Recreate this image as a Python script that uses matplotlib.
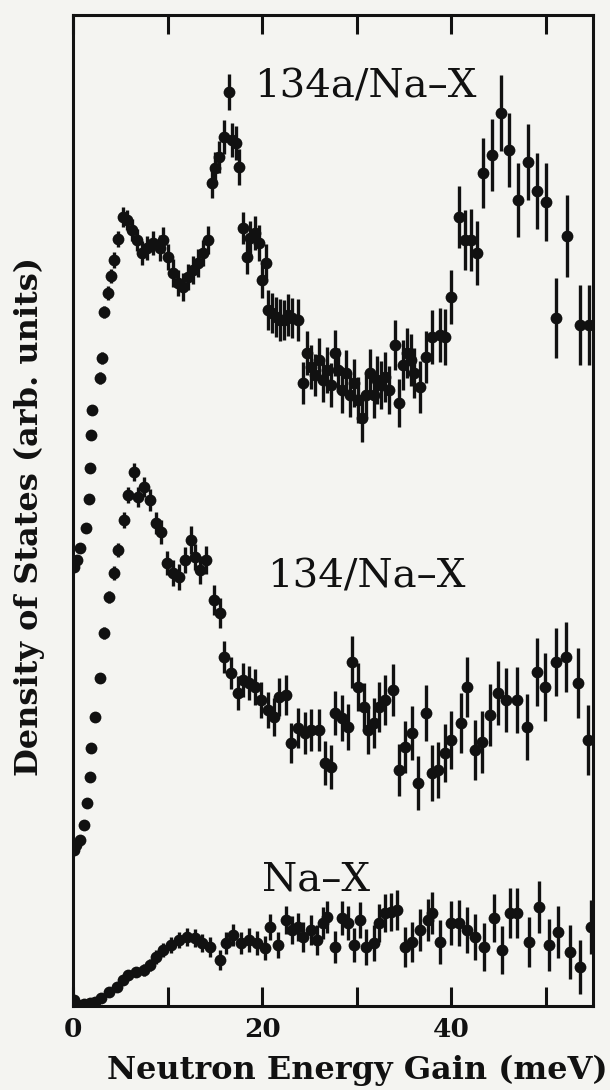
import matplotlib.pyplot as plt

# 134a/Na-X (upper curve)
e_134a = [0.11, 0.42, 0.79, 1.38, 1.69, 1.80, 1.90, 2.01, 2.86, 3.07, 3.28, 3.70, 4.02, 4.34, 4.76,
          5.29, 5.71, 6.24, 6.77, 7.30, 7.83, 8.47, 9.21, 9.52, 10.05, 10.58, 11.11, 11.64, 12.17, 12.70, 13.23, 13.76, 14.29,
          14.71, 15.03, 15.45, 15.98, 16.51, 16.83, 17.25, 17.57,
          17.99, 18.41, 18.73, 19.26, 19.68, 20.00, 20.42, 20.63, 21.06, 21.48, 21.90, 22.33, 22.75, 23.17, 23.81,
          24.34, 24.76, 25.19, 25.61, 26.03, 26.46, 26.88, 27.30, 27.72, 28.04, 28.47, 28.89, 29.31, 29.74, 30.16, 30.58,
          31.01, 31.43, 31.85, 32.17, 32.59, 33.02, 33.44, 34.07, 34.50, 34.92, 35.34, 35.77, 36.08, 36.72, 37.35, 37.99,
          38.84, 39.37,
          40.00, 40.85, 41.48, 42.12, 42.75, 43.39, 44.34, 45.29, 46.14, 47.09, 48.15, 49.10, 50.05, 51.11, 52.28, 53.65, 54.60]
dos_134a = [43.9, 44.6, 45.8, 47.8, 50.7, 53.8, 57.1, 59.6, 62.8, 64.8, 69.4, 71.3, 73.0, 74.6, 76.7,
            78.9, 78.6, 77.6, 76.6, 75.3, 75.8, 76.3, 75.8, 76.6, 74.9, 73.3, 72.3, 71.9, 72.9, 73.6, 74.3, 75.3, 76.6,
            82.3, 83.8, 84.9, 86.9, 91.4, 86.6, 86.3, 83.9,
            77.8, 74.9, 76.8, 77.3, 76.3, 72.6, 74.3, 69.6, 69.3, 68.9, 68.6, 68.6, 69.1, 68.8, 68.6,
            62.3, 65.3, 63.9, 63.1, 64.6, 62.6, 63.6, 62.1, 65.3, 63.6, 61.6, 63.3, 61.1, 62.3, 60.6, 58.8,
            61.1, 63.3, 61.1, 62.6, 62.1, 62.9, 61.6, 66.1, 60.3, 64.1, 65.3, 64.6, 63.3, 61.9, 64.9, 66.9,
            67.1, 66.9,
            70.9, 78.9, 76.6, 76.6, 75.3, 83.3, 85.1, 89.3, 85.6, 80.6, 84.4, 81.5, 80.4, 68.8, 77.0, 68.1, 68.1]
err_134a = [0.3, 0.3, 0.3, 0.4, 0.4, 0.4, 0.5, 0.5, 0.6, 0.6, 0.6, 0.7, 0.7, 0.8, 0.8,
            1.0, 1.0, 1.1, 1.1, 1.2, 1.2, 1.2, 1.3, 1.3, 1.3, 1.4, 1.3, 1.4, 1.3, 1.4, 1.4, 1.3, 1.4,
            1.5, 1.6, 1.6, 1.7, 1.8, 1.7, 1.7, 1.8,
            1.6, 1.7, 1.7, 1.7, 1.8, 1.8, 1.9, 2.0, 2.0, 2.0, 2.1, 2.0, 2.1, 2.0, 2.1,
            2.1, 2.2, 2.2, 2.1, 2.2, 2.2, 2.3, 2.2, 2.3, 2.2, 2.3, 2.3, 2.2, 2.4, 2.3, 2.4,
            2.3, 2.4, 2.3, 2.4, 2.4, 2.5, 2.4, 2.5, 2.4, 2.5, 2.5, 2.6, 2.5, 2.6, 2.6, 2.7,
            2.7, 2.8,
            2.7, 3.1, 3.0, 3.1, 3.2, 3.5, 3.6, 3.8, 3.7, 3.7, 3.8, 3.8, 3.9, 4.0, 4.1, 4.0, 4.0]

# 134/Na-X (middle curve)
e_134 = [0.11, 0.32, 0.74, 1.16, 1.53, 1.75, 1.90, 2.33, 2.86, 3.28, 3.81, 4.30, 4.76, 5.40, 5.82, 6.46,
         6.88, 7.51, 8.15, 8.78, 9.31, 9.95, 10.58, 11.22, 11.85, 12.49, 12.91, 13.44, 14.07, 14.92,
         15.56, 15.98, 16.72, 17.46, 17.99, 18.62, 19.26, 19.89, 20.63, 21.27, 21.80, 22.54, 23.07, 23.81, 24.55,
         25.19, 26.03,
         26.67, 27.30, 27.72, 28.47, 29.10, 29.52, 30.16, 30.79, 31.22, 31.85, 32.38, 33.02, 33.86, 34.50, 35.13,
         35.87, 36.51, 37.35, 37.99, 38.62, 39.37,
         40.00, 41.06, 41.69, 42.54, 43.28, 44.13, 44.97, 45.82, 46.98, 48.04, 49.10, 49.95, 51.11, 52.17, 53.44, 54.50]
dos_134 = [15.6, 16.1, 16.6, 18.1, 20.3, 22.9, 25.8, 28.9, 32.8, 37.3, 40.9, 43.3, 45.6, 48.6, 51.1, 53.4,
           50.9, 51.9, 50.6, 48.3, 47.4, 44.3, 43.3, 42.9, 44.6, 46.6, 44.9, 43.6, 44.6, 40.6,
           39.3, 34.9, 33.3, 31.3, 32.6, 32.3, 31.9, 30.6, 29.6, 28.9, 30.9, 31.1, 26.3, 27.8, 27.3,
           27.6, 27.6,
           24.3, 23.9, 29.3, 28.8, 27.9, 34.4, 31.9, 29.9, 27.6, 28.3, 29.9, 30.6, 31.6, 23.6, 25.9,
           27.3, 22.3, 29.3, 23.3, 23.6, 25.3,
           26.6, 28.3, 31.9, 25.6, 26.4, 29.1, 31.3, 30.6, 30.6, 27.9, 33.4, 31.9, 34.4, 34.9, 32.3, 26.6]
err_134 = [0.3, 0.3, 0.3, 0.3, 0.4, 0.4, 0.4, 0.5, 0.5, 0.6, 0.6, 0.7, 0.7, 0.8, 0.8, 0.9,
           1.0, 1.0, 1.1, 1.1, 1.2, 1.2, 1.3, 1.3, 1.3, 1.4, 1.3, 1.4, 1.4, 1.5,
           1.5, 1.6, 1.6, 1.7, 1.7, 1.7, 1.8, 1.8, 1.8, 1.9, 1.9, 2.0, 2.0, 2.0, 2.1,
           2.1, 2.1,
           2.2, 2.2, 2.2, 2.3, 2.3, 2.6, 2.4, 2.4, 2.4, 2.5, 2.5, 2.5, 2.6, 2.6, 2.6,
           2.7, 2.7, 2.8, 2.8, 2.8, 2.9,
           2.9, 3.0, 3.0, 3.0, 3.1, 3.1, 3.2, 3.2, 3.3, 3.3, 3.4, 3.4, 3.4, 3.5, 3.5, 3.5]

# Na-X (bottom curve)
e_nax = [0.11, 0.53, 1.16, 1.75, 2.33, 2.96, 3.81, 4.66, 5.25, 5.82, 6.67, 7.51, 8.15, 8.78, 9.52,
         10.37, 11.22, 12.06, 12.91, 13.65, 14.50, 15.56, 16.19, 16.93, 17.78, 18.62, 19.47, 20.32,
         20.85, 21.69, 22.54, 23.17, 23.81, 24.34, 25.19, 25.82, 26.46, 26.88, 27.72, 28.47, 29.10, 29.74,
         30.37, 31.01, 31.85, 32.38, 33.02, 33.65, 34.29,
         35.13, 35.87, 36.72, 37.57, 37.99, 38.84, 40.00, 40.85, 41.69, 42.54, 43.49, 44.55, 45.40, 46.24,
         46.98, 48.25, 49.31, 50.37, 51.32, 52.59, 53.65, 54.81]
dos_nax = [0.6, 0.1, 0.2, 0.3, 0.4, 0.8, 1.4, 1.9, 2.6, 3.1, 3.4, 3.6, 4.1, 4.9, 5.6,
           6.1, 6.6, 6.9, 6.8, 6.3, 5.9, 4.6, 6.3, 7.1, 6.3, 6.6, 6.3, 5.8,
           7.9, 6.1, 8.6, 7.6, 7.9, 6.9, 7.6, 6.6, 8.3, 8.9, 5.9, 8.8, 8.3, 6.1,
           8.6, 5.9, 6.3, 8.3, 9.3, 9.4, 9.6,
           5.9, 6.4, 7.6, 8.6, 9.3, 6.4, 8.3, 8.3, 7.6, 6.9, 5.9, 8.8, 5.6, 9.3,
           9.3, 6.4, 9.9, 6.1, 7.4, 5.4, 3.9, 7.9]
err_nax = [0.2, 0.2, 0.2, 0.2, 0.3, 0.3, 0.3, 0.4, 0.4, 0.5, 0.5, 0.6, 0.6, 0.7, 0.7,
           0.8, 0.8, 0.9, 0.9, 0.9, 1.0, 1.0, 1.1, 1.1, 1.1, 1.2, 1.2, 1.2,
           1.3, 1.3, 1.4, 1.4, 1.4, 1.5, 1.5, 1.5, 1.6, 1.6, 1.6, 1.7, 1.7, 1.7,
           1.8, 1.8, 1.8, 1.9, 1.9, 1.9, 2.0,
           2.0, 2.0, 2.1, 2.1, 2.1, 2.2, 2.2, 2.3, 2.3, 2.3, 2.4, 2.4, 2.4, 2.5,
           2.5, 2.5, 2.6, 2.6, 2.6, 2.7, 2.7, 2.7]

series = [(e_134a, dos_134a, err_134a), (e_134, dos_134, err_134), (e_nax, dos_nax, err_nax)]
labels = ["134a/Na–X", "134/Na–X", "Na–X"]
label_pos = [(19.2, 90.9), (20.5, 41.8), (20.0, 11.5)]

ink = "#111111"
paper = "#f4f4f1"

fig = plt.figure(figsize=(6.1, 10.9), dpi=100, facecolor=paper)
ax = fig.add_axes([0.1197, 0.0771, 0.8524, 0.9091], facecolor=paper)

for e, d, s in series:
    ax.errorbar(e, d, yerr=s, fmt="o", color=ink, ms=8.5, elinewidth=2.4, capsize=0, mew=0)

for txt, (x, y) in zip(labels, label_pos):
    ax.text(x, y, txt, fontsize=29, family="DejaVu Serif", color=ink, va="baseline", ha="left")

ax.set_xlim(0, 55)
ax.set_ylim(0, 99.1)
ax.set_xticks([0, 10, 20, 30, 40, 50])
ax.set_xticklabels(["0", "", "20", "", "40", ""], fontsize=19, family="DejaVu Serif", fontweight="bold", color=ink)
ax.set_yticks([])
ax.tick_params(axis="x", direction="in", length=14, width=2.2, top=True, pad=8, colors=ink)
for sp in ax.spines.values():
    sp.set_linewidth(2.2)
    sp.set_color(ink)

# axis titles placed by hand to match the original layout
fig.text(0.586, 0.018, "Neutron Energy Gain (meV)", fontsize=23, family="DejaVu Serif",
         fontweight="bold", color=ink, ha="center", va="center")
fig.text(0.048, 0.526, "Density of States (arb. units)", fontsize=23, family="DejaVu Serif",
         fontweight="bold", color=ink, ha="center", va="center", rotation=90)

fig.savefig("out.png", dpi=100, facecolor=paper)
